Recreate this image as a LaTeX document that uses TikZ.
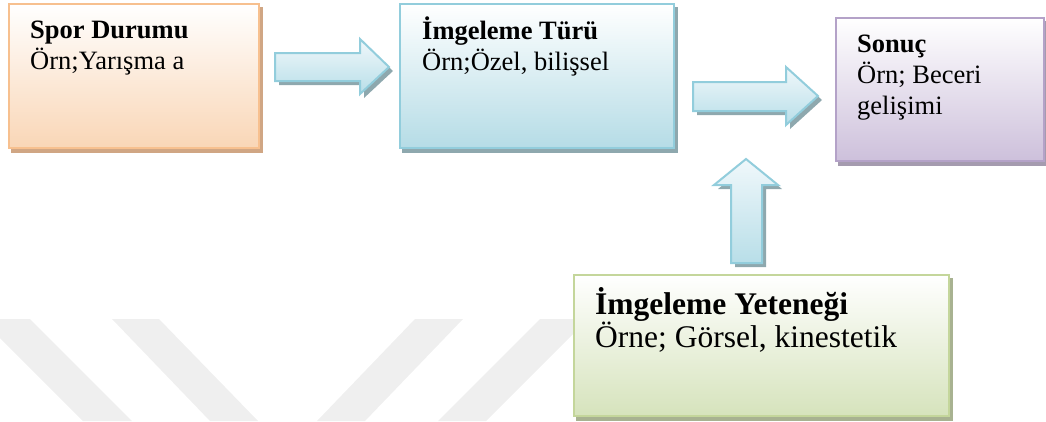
\documentclass[tikz,border=0pt]{standalone}
\usepackage{fontspec}
\setmainfont{Liberation Serif}
\usetikzlibrary{backgrounds}

\definecolor{orangeline}{RGB}{247,192,143}
\definecolor{orangefill}{RGB}{249,214,182}
\definecolor{orangeshadow}{RGB}{208,166,132}
\definecolor{blueline}{RGB}{146,205,220}
\definecolor{bluefill}{RGB}{181,220,230}
\definecolor{blueshadow}{RGB}{142,168,174}
\definecolor{purpleline}{RGB}{180,162,200}
\definecolor{purplefill}{RGB}{205,192,219}
\definecolor{purpleshadow}{RGB}{165,155,175}
\definecolor{greenline}{RGB}{196,214,155}
\definecolor{greenfill}{RGB}{214,227,188}
\definecolor{greenshadow}{RGB}{168,178,145}
\definecolor{arrowtop}{RGB}{240,248,251}
\definecolor{arrowbottom}{RGB}{184,222,232}
\definecolor{stripe}{RGB}{239,239,239}

\tikzset{
  box/.style={shape=rectangle, anchor=north west, line width=2pt, inner sep=0pt},
  boxtext/.style={anchor=base west, align=left, inner sep=0pt,
    font=\fontsize{26.5}{31}\selectfont},
  bigtext/.style={anchor=base west, align=left, inner sep=0pt,
    font=\fontsize{31.5}{33}\selectfont},
  barrow/.style={draw=blueline, line width=2pt, line join=miter,
    top color=arrowtop, bottom color=arrowbottom},
  bshadow/.style={fill=blueshadow, shift={(4,4)}},
}

\begin{document}
\begin{tikzpicture}[x=1pt, y=-1pt]
	\useasboundingbox (0,0) rectangle (1046,421);

	% watermark
	\fill[stripe] (-19,319) -- (30,319) -- (132,421) -- (83,421) -- cycle;
	\fill[stripe] (112,319) -- (159,319) -- (258,421) -- (210,421) -- cycle;
	\fill[stripe] (415,319) -- (463,319) -- (365,421) -- (317,421) -- cycle;
	\fill[stripe] (540,319) -- (588,319) -- (486,421) -- (438,421) -- cycle;

	% boxes
	\node[box, draw=orangeline, top color=white, bottom color=orangefill,
	      minimum width=250, minimum height=144] (spor) at (8,3) {};
	\node[box, draw=blueline, top color=white, bottom color=bluefill,
	      minimum width=274, minimum height=144] (tur) at (399,3) {};
	\node[box, draw=purpleline, top color=white, bottom color=purplefill,
	      minimum width=208, minimum height=143] (sonuc) at (835,17) {};
	\node[box, draw=greenline, top color=white, bottom color=greenfill,
	      minimum width=375, minimum height=141] (yetenek) at (573,274) {};

	\begin{scope}[on background layer]
		\fill[orangeshadow] ([shift={(3,4)}]spor.north west) rectangle ([shift={(3,4)}]spor.south east);
		\fill[blueshadow]   ([shift={(3,4)}]tur.north west) rectangle ([shift={(3,4)}]tur.south east);
		\fill[purpleshadow] ([shift={(3,4)}]sonuc.north west) rectangle ([shift={(3,4)}]sonuc.south east);
		\fill[greenshadow]  ([shift={(3,4)}]yetenek.north west) rectangle ([shift={(3,4)}]yetenek.south east);
	\end{scope}

	% texts (base = last line)
	\node[boxtext] (sporT)    at ([shift={(22,66)}]spor.north west)    {\textbf{Spor Durumu}\\Örn;Yarışma a};
	\node[boxtext] (turT)     at ([shift={(23,67)}]tur.north west)     {\textbf{İmgeleme Türü}\\Örn;Özel, bilişsel};
	\node[boxtext] (sonucT)   at ([shift={(22,97)}]sonuc.north west)   {\textbf{Sonuç}\\Örn; Beceri\\gelişimi};
	\node[bigtext] (yetenekT) at ([shift={(22,73)}]yetenek.north west) {\textbf{İmgeleme Yeteneği}\\Örne; Görsel, kinestetik};

	% block arrows
	\fill[bshadow] (275,53) -- (360,53) -- (360,39) -- (389,67) -- (360,94) -- (360,81) -- (275,81) -- cycle;
	\path[barrow]  (275,53) -- (360,53) -- (360,39) -- (389,67) -- (360,94) -- (360,81) -- (275,81) -- cycle;

	\fill[bshadow] (693,82) -- (786,82) -- (786,67) -- (818,96) -- (786,125) -- (786,111) -- (693,111) -- cycle;
	\path[barrow]  (693,82) -- (786,82) -- (786,67) -- (818,96) -- (786,125) -- (786,111) -- (693,111) -- cycle;

	\fill[bshadow] (731,263) -- (731,185) -- (714,185) -- (746,159) -- (778,185) -- (762,185) -- (762,263) -- cycle;
	\path[barrow]  (731,263) -- (731,185) -- (714,185) -- (746,159) -- (778,185) -- (762,185) -- (762,263) -- cycle;
\end{tikzpicture}
\end{document}
